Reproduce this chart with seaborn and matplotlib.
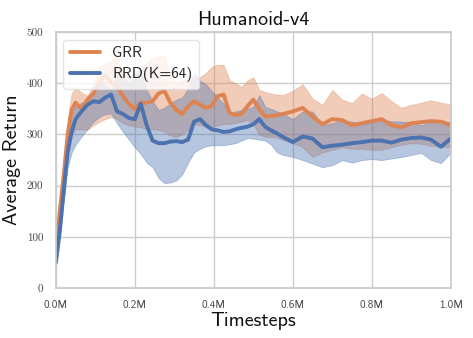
import numpy as np
import pandas as pd
import matplotlib
matplotlib.use("Agg")
import matplotlib.pyplot as plt
import seaborn as sns
from matplotlib.ticker import FuncFormatter

# timesteps (millions)
timesteps = [0, 0.01, 0.02, 0.03, 0.04, 0.05, 0.065, 0.08, 0.095, 0.11, 0.125, 0.14, 0.155,
             0.17, 0.185, 0.2, 0.215, 0.23, 0.245, 0.26, 0.275, 0.29, 0.305, 0.32, 0.335,
             0.35, 0.365, 0.38, 0.395, 0.41, 0.425, 0.44, 0.455, 0.47, 0.485, 0.5, 0.515,
             0.53, 0.545, 0.56, 0.575, 0.6, 0.625, 0.65, 0.675, 0.7, 0.725, 0.75, 0.775,
             0.8, 0.825, 0.85, 0.875, 0.9, 0.925, 0.95, 0.975, 1.0]

grr_mean = [70, 150, 220, 300, 348, 362, 350, 368, 380, 400, 415, 402, 395,
            375, 360, 350, 362, 362, 365, 380, 385, 362, 348, 340, 355,
            365, 358, 352, 356, 375, 378, 342, 338, 340, 355, 368, 350,
            335, 336, 338, 340, 345, 352, 335, 320, 330, 328, 318, 322,
            326, 330, 318, 314, 322, 324, 326, 325, 318]
grr_upper = [75, 165, 240, 330, 380, 392, 382, 375, 400, 432, 438, 445, 455,
             420, 412, 420, 432, 440, 449, 452, 455, 412, 400, 405, 416,
             414, 412, 420, 432, 436, 436, 406, 400, 393, 405, 412, 387,
             383, 380, 378, 377, 385, 398, 370, 358, 387, 368, 361, 380,
             370, 381, 365, 352, 358, 362, 367, 362, 359]
grr_lower = [65, 135, 200, 265, 300, 310, 310, 309, 318, 325, 330, 334, 330,
             322, 318, 316, 314, 311, 310, 309, 305, 298, 295, 300, 310,
             320, 318, 316, 315, 318, 320, 321, 322, 325, 328, 320, 300,
             295, 295, 294, 289, 283, 275, 256, 265, 270, 275, 272, 272,
             270, 270, 275, 280, 283, 282, 278, 276, 275]

rrd_mean = [49, 110, 190, 265, 305, 330, 345, 358, 365, 363, 372, 378, 345,
            340, 332, 330, 360, 318, 288, 283, 283, 286, 287, 285, 290,
            325, 330, 318, 310, 308, 305, 306, 310, 313, 315, 320, 330,
            315, 308, 302, 295, 285, 296, 292, 275, 278, 280, 283, 285,
            288, 288, 284, 290, 293, 294, 290, 276, 292]
rrd_upper = [55, 130, 215, 300, 340, 355, 362, 368, 385, 406, 395, 387, 415,
             410, 400, 415, 426, 387, 365, 348, 352, 361, 368, 372, 390,
             420, 405, 398, 385, 372, 360, 343, 345, 348, 350, 354, 377,
             354, 350, 345, 341, 330, 345, 345, 318, 322, 328, 325, 322,
             324, 328, 326, 325, 324, 318, 324, 326, 324]
rrd_lower = [45, 100, 170, 235, 265, 280, 296, 310, 325, 334, 340, 341, 322,
             305, 290, 275, 262, 245, 236, 215, 205, 206, 210, 222, 245,
             265, 272, 277, 279, 279, 279, 281, 283, 288, 293, 292, 290,
             288, 280, 265, 260, 256, 250, 243, 236, 240, 250, 245, 250,
             252, 250, 253, 256, 260, 264, 250, 244, 264]

methods = ["GRR", "RRD(K=64)"]
colors = ["#DD8452", "#4C72B0"]

sns.set_theme(style="whitegrid")
plt.rcParams['font.family'] = ['cmss10', 'DejaVu Sans']
plt.rcParams['axes.formatter.use_mathtext'] = True

fig = plt.figure(figsize=(4.73, 3.38), dpi=100)
ax = fig.add_axes([0.118, 0.148, 0.835, 0.757])

series = [(grr_mean, grr_lower, grr_upper), (rrd_mean, rrd_lower, rrd_upper)]
for name, col, (m, lo, hi) in zip(methods, colors, series):
    df = pd.DataFrame({"t": timesteps, "ret": m})
    ax.fill_between(timesteps, lo, hi, color=col, alpha=0.4, linewidth=0.6,
                    edgecolor=col)
    sns.lineplot(data=df, x="t", y="ret", color=col, linewidth=2.8, ax=ax, label=name)

ax.set_xlim(0, 1.0)
ax.set_ylim(0, 500)
ax.set_xticks([0, 0.2, 0.4, 0.6, 0.8, 1.0])
ax.set_yticks([0, 100, 200, 300, 400, 500])
ax.xaxis.set_major_formatter(FuncFormatter(lambda v, p: f"{v:.1f}M"))
ax.yaxis.set_major_formatter(FuncFormatter(lambda v, p: f"{int(v)}"))
for lab in ax.get_xticklabels():
    lab.set_fontsize(8)
    lab.set_color("#444444")
for lab in ax.get_yticklabels():
    lab.set_fontsize(8)
    lab.set_family(["cmr10", "DejaVu Serif"])
    lab.set_color("#444444")
ax.tick_params(axis="both", pad=3)
ax.set_xlabel("Timesteps", fontsize=14.5, labelpad=1, color="#111111")
ax.set_ylabel("Average Return", fontsize=14.5, labelpad=4, color="#111111")
ax.set_title("Humanoid-v4", fontsize=14.5, color="#111111", pad=5)

leg = ax.legend(loc="upper left", fontsize=11, frameon=True, handlelength=2.0,
                borderaxespad=0.5)
leg.get_frame().set_edgecolor("#dddddd")

fig.savefig("out.png", dpi=100)
